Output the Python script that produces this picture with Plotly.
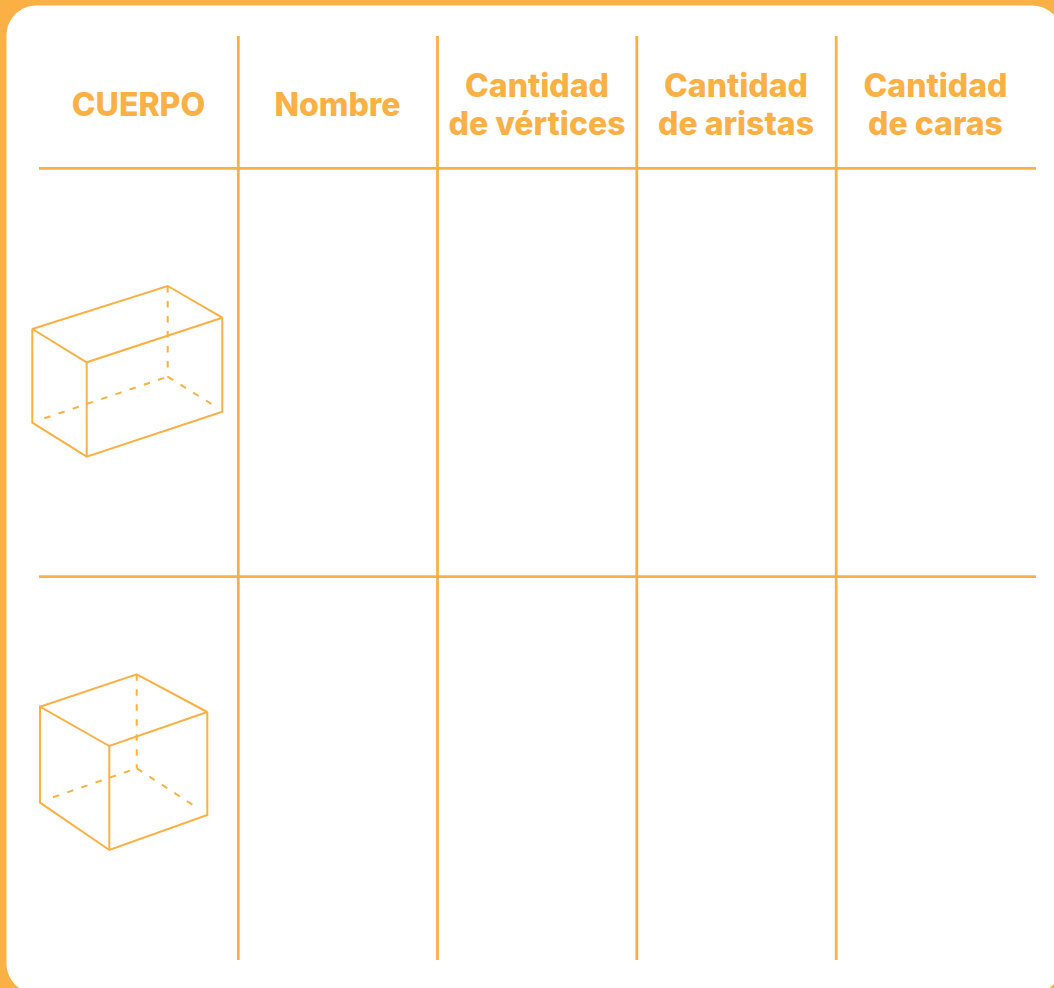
import plotly.graph_objects as go

ORANGE = "#FBB045"
W, H = 1054, 988

header_labels = ["CUERPO", "Nombre", "Cantidad", "de vértices", "Cantidad", "de aristas", "Cantidad", "de caras"]
header_x = [138.5, 337.5, 537, 537, 736, 736, 935.5, 935.5]
header_y = [108, 108, 89, 127, 89, 127, 89, 127]
column_lines_x = [238.3, 437.5, 636.8, 836.2]
column_lines_y = [36, 960]
row_lines_y = [168.3, 576.7]
row_lines_x = [39, 1036]

prism_solid_x = [32.3, 167.7, 222.3, 86.7, 32.3, 32.3, 86.7, 222.3, 222.3]
prism_solid_y = [329, 286, 317.7, 362.3, 329, 422.7, 456.7, 411.7, 317.7]
prism_front_x = [86.7, 86.7]
prism_front_y = [362.3, 456.7]
prism_dash_x = [167.7, 167.7, None, 44.3, 167.7, None, 167.7, 212]
prism_dash_y = [286, 376.7, None, 418.3, 376.7, None, 376.7, 404.3]

cube_solid_x = [40, 136.7, 207.3, 109.3, 40, 40, 109.3, 207.3, 207.3]
cube_solid_y = [706.7, 674.3, 712, 746, 706.7, 802.7, 850, 815, 712]
cube_front_x = [109.3, 109.3]
cube_front_y = [746, 850]
cube_dash_x = [136.7, 136.7, None, 53, 136.7, None, 136.7, 197]
cube_dash_y = [674.3, 768.3, None, 797.3, 768.3, None, 768.3, 807.7]

fig = go.Figure()

def line(x, y, width, dash="solid"):
    fig.add_trace(go.Scatter(x=x, y=y, mode="lines", hoverinfo="skip", showlegend=False,
                             line=dict(color=ORANGE, width=width, dash=dash)))

for x in column_lines_x:
    line([x, x], column_lines_y, 2.8)
for y in row_lines_y:
    line(row_lines_x, [y, y], 2.8)

for sx, sy, fx, fy, dx, dy in [
    (prism_solid_x, prism_solid_y, prism_front_x, prism_front_y, prism_dash_x, prism_dash_y),
    (cube_solid_x, cube_solid_y, cube_front_x, cube_front_y, cube_dash_x, cube_dash_y),
]:
    line(dx, dy, 2, "6.5px,8.5px")
    line(sx, sy, 2)
    line(fx, fy, 2)

fig.add_trace(go.Scatter(x=header_x, y=header_y, mode="text", text=header_labels, hoverinfo="skip",
                         showlegend=False, textposition="middle center",
                         textfont=dict(family="Inter", size=32, color=ORANGE, weight=800)))

L, T, R, B, r = 6.5, 5.5, 1062, 993.6, 30
k = r * 0.448
panel = (f"M {L+r},{T} L {R-r},{T} C {R-k},{T} {R},{T+k} {R},{T+r} L {R},{B-r} "
         f"C {R},{B-k} {R-k},{B} {R-r},{B} L {L+r},{B} C {L+k},{B} {L},{B-k} {L},{B-r} "
         f"L {L},{T+r} C {L},{T+k} {L+k},{T} {L+r},{T} Z")

fig.update_layout(
    width=W, height=H, autosize=False,
    margin=dict(l=0, r=0, t=0, b=0),
    paper_bgcolor=ORANGE, plot_bgcolor=ORANGE,
    xaxis=dict(range=[0, W], visible=False, fixedrange=True),
    yaxis=dict(range=[H, 0], visible=False, fixedrange=True),
    shapes=[dict(type="path", path=panel, fillcolor="#FFFFFF", line=dict(width=0), layer="below")],
)
fig.write_html("out.html", config=dict(displayModeBar=False),
               post_script="document.body.style.margin='0';document.body.style.overflow='hidden';")
